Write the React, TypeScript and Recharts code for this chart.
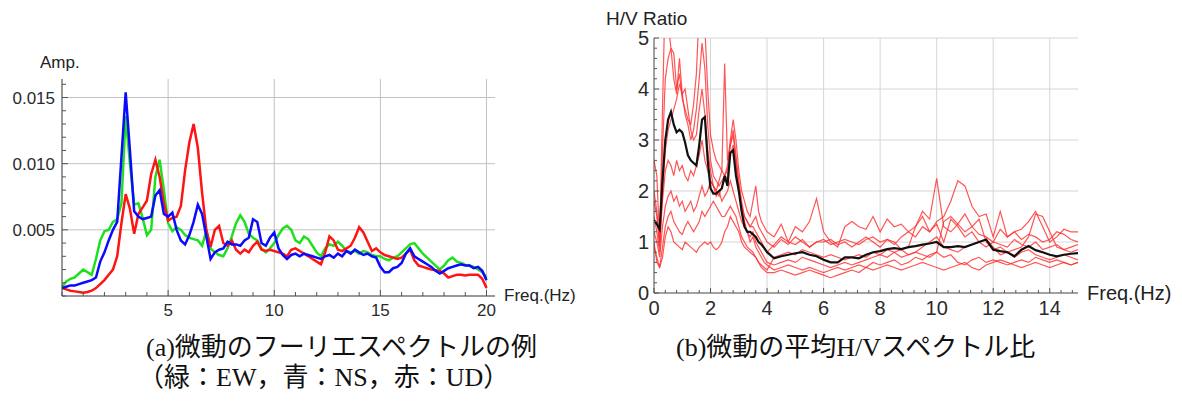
import React from 'react';
import { LineChart, Line, XAxis, YAxis, CartesianGrid } from 'recharts';

const SANS = '"Liberation Sans", Arial, sans-serif';
const SERIF = '"Liberation Serif", "Noto Sans CJK JP", serif';

// (a) Fourier spectra, amplitude in units of 1e-3
const freqA = [
  0, 0.2, 0.4, 0.6, 0.8, 1, 1.2, 1.4, 1.6, 1.8,
  2, 2.2, 2.4, 2.6, 2.8, 3, 3.2, 3.4, 3.6, 3.8,
  4, 4.2, 4.4, 4.6, 4.8, 5, 5.2, 5.4, 5.6, 5.8,
  6, 6.2, 6.4, 6.6, 6.8, 7, 7.2, 7.4, 7.6, 7.8,
  8, 8.2, 8.4, 8.6, 8.8, 9, 9.2, 9.4, 9.6, 9.8,
  10, 10.2, 10.4, 10.6, 10.8, 11, 11.2, 11.4, 11.6, 11.8,
  12, 12.2, 12.4, 12.6, 12.8, 13, 13.2, 13.4, 13.6, 13.8,
  14, 14.2, 14.4, 14.6, 14.8, 15, 15.2, 15.4, 15.6, 15.8,
  16, 16.2, 16.4, 16.6, 16.8, 17, 17.2, 17.4, 17.6, 17.8,
  18, 18.2, 18.4, 18.6, 18.8, 19, 19.2, 19.4, 19.6, 19.8,
  20,
];
const ampEW = [
  0.7, 1.1, 1.3, 1.4, 1.7, 2.0, 1.8, 1.6, 2.8, 4.2,
  4.9, 5.0, 5.6, 5.8, 7.0, 13.6, 10.0, 6.9, 7.0, 5.9,
  4.6, 5.0, 9.0, 10.3, 8.0, 5.5, 4.9, 5.2, 5.0, 4.6,
  4.4, 4.3, 4.2, 3.8, 4.9, 3.6, 3.3, 3.1, 3.0, 3.6,
  4.5, 5.5, 6.1, 5.6, 4.7, 4.4, 4.2, 3.6, 3.3, 3.6,
  4.0, 4.6, 5.1, 5.3, 5.0, 4.2, 4.0, 4.5, 4.3, 3.8,
  3.3, 3.0, 3.6, 3.9, 3.8, 4.1, 3.8, 3.4, 3.3, 3.4,
  3.2, 3.4, 3.3, 3.1, 3.0, 3.0, 2.8, 2.7, 2.9, 3.0,
  3.3, 3.6, 3.9, 4.0, 3.6, 3.2, 2.9, 2.6, 2.3, 2.0,
  2.3, 2.7, 2.9, 2.6, 2.5, 2.35, 2.3, 2.2, 2.0, 1.8,
  1.4,
];
const ampNS = [
  0.6, 0.7, 0.8, 0.8, 0.9, 1.0, 1.1, 1.2, 1.4, 2.6,
  3.3, 4.2, 5.0, 5.6, 10.5, 15.4, 11.0, 6.4, 6.0, 5.8,
  5.9, 6.0, 7.6, 8.0, 6.2, 6.0, 6.3, 5.0, 4.2, 3.9,
  4.6, 5.6, 6.9, 6.2, 4.5, 2.8, 3.3, 3.5, 3.6, 4.1,
  3.9, 3.9, 3.8, 4.2, 4.4, 5.8, 5.6, 4.0, 3.8, 4.4,
  4.8, 3.6, 3.1, 2.8, 3.1, 3.2, 3.0, 3.2, 3.1, 3.0,
  2.9, 2.8, 3.0, 3.1, 2.9, 3.2, 3.0, 3.4, 3.2, 3.5,
  3.3, 3.1, 3.2, 3.0, 2.9, 2.2, 1.8, 1.8, 2.1, 2.2,
  2.5, 3.2, 3.6, 3.0, 2.8, 2.6, 2.4, 2.2, 1.9, 1.7,
  1.9, 2.1, 2.2, 2.3, 2.4, 2.3, 2.3, 2.1, 2.2, 1.9,
  1.2,
];
const ampUD = [
  0.6, 0.5, 0.4, 0.35, 0.3, 0.25, 0.3, 0.4, 0.6, 0.9,
  1.2, 1.6, 2.0, 3.0, 5.5, 7.7, 6.6, 4.7, 6.2, 6.7,
  7.2, 9.2, 10.3, 9.0, 7.0, 5.7, 5.9, 6.0, 6.8, 9.5,
  11.6, 13.0, 11.2, 7.8, 5.0, 3.7, 5.0, 5.3, 4.0, 3.8,
  4.2, 3.5, 3.2, 3.5, 3.3, 3.8, 4.1, 3.5, 3.4, 3.5,
  3.4, 3.3, 3.2, 3.0, 3.5, 3.6, 3.4, 3.2, 3.0, 2.8,
  2.6, 2.4, 3.3, 4.5, 4.2, 3.5, 3.4, 3.6, 3.8, 4.4,
  5.2, 4.8, 4.1, 3.4, 3.6, 3.3, 3.1, 3.0, 2.9, 2.8,
  2.9, 3.2, 3.5, 2.7, 2.3, 2.2, 2.1, 2.0, 1.95, 1.9,
  1.7, 1.4, 1.5, 1.6, 1.6, 1.55, 1.6, 1.6, 1.6, 1.3,
  0.6,
];
const ticksAX = [0, 1, 2, 3, 4, 5, 6, 7, 8, 9, 10, 11, 12, 13, 14, 15, 16, 17, 18, 19, 20];
const labelsAX = [5, 10, 15, 20];
const ticksAY = [0, 1, 2, 3, 4, 5, 6, 7, 8, 9, 10, 11, 12, 13, 14, 15, 16];
const labelsAY = [5, 10, 15];

// (b) H/V spectral ratios
const freqB = [
  0, 0.1, 0.2, 0.3, 0.4, 0.5, 0.6, 0.7, 0.8, 0.9,
  1, 1.1, 1.2, 1.3, 1.4, 1.5, 1.6, 1.7, 1.8, 1.9,
  2, 2.1, 2.2, 2.3, 2.4, 2.5, 2.6, 2.7, 2.8, 2.9,
  3, 3.1, 3.2, 3.3, 3.4, 3.5, 3.6, 3.7, 3.8, 3.9,
  4,
  4.25, 4.5, 4.75, 5, 5.25, 5.5, 5.75, 6, 6.25, 6.5, 6.75, 7,
  7.25, 7.5, 7.75, 8, 8.25, 8.5, 8.75, 9, 9.25, 9.5, 9.75, 10,
  10.25, 10.5, 10.75, 11, 11.25, 11.5, 11.75, 12, 12.25, 12.5, 12.75, 13,
  13.25, 13.5, 13.75, 14, 14.25, 14.5, 14.75, 15,
];
const hvMean = [
  1.43, 1.35, 1.25, 2.2, 3.0, 3.4, 3.55, 3.3, 3.15, 3.2,
  3.15, 2.95, 2.7, 2.6, 2.55, 2.5, 2.9, 3.4, 3.45, 2.6,
  2.05, 1.95, 1.95, 2.0, 2.05, 2.3, 2.1, 2.75, 2.8, 2.3,
  2.0, 1.6, 1.3, 1.2, 1.2, 1.15, 1.1, 1.0, 0.95, 0.88,
  0.8,
  0.68, 0.72, 0.75, 0.78, 0.8, 0.75, 0.72, 0.65, 0.6, 0.6, 0.7, 0.7,
  0.68, 0.75, 0.8, 0.82, 0.86, 0.88, 0.86, 0.9, 0.92, 0.95, 0.97, 1.0,
  0.9, 0.9, 0.92, 0.9, 0.95, 1.0, 1.05, 0.85, 0.82, 0.8, 0.72, 0.85,
  0.92, 0.84, 0.8, 0.75, 0.72, 0.75, 0.77, 0.78,
];
const hv1 = [
  2.6, 2.3, 1.0, 3.6, 6.0, 5.3, 4.8, 4.7, 4.0, 4.3,
  3.8, 3.6, 3.4, 3.3, 3.7, 4.3, 5.6, 6.2, 5.2, 4.0,
  3.1, 2.8, 2.6, 2.5, 2.4, 2.3, 2.5, 3.0, 3.4, 3.0,
  2.4, 2.0, 1.8, 1.6, 1.5, 1.8, 2.1, 1.6, 1.4, 1.3,
  1.2,
  1.1, 1.35, 1.0, 1.3, 1.2, 1.4, 1.85, 1.2, 1.0, 0.9, 1.3, 1.4,
  1.3, 1.25, 1.5, 1.2, 1.45, 1.3, 1.35, 1.2, 1.3, 1.6, 1.45, 2.25,
  1.3, 1.2, 1.35, 1.2, 1.3, 1.15, 1.1, 1.0, 1.25, 1.1, 1.2, 1.05,
  1.15, 1.1, 1.0, 1.05, 1.2, 1.15, 1.05, 1.0,
];
const hv2 = [
  1.8, 1.5, 0.9, 2.8, 4.2, 4.6, 4.8, 4.2, 3.9, 4.6,
  3.9, 3.5, 3.3, 3.0, 3.2, 3.6, 4.2, 4.9, 4.4, 3.3,
  2.6, 2.3, 2.2, 2.1, 2.2, 2.3, 2.4, 2.9, 3.2, 2.7,
  2.2, 1.8, 1.5, 1.4, 1.3, 1.4, 1.5, 1.3, 1.2, 1.1,
  1.0,
  0.9, 1.05, 0.95, 1.1, 1.0, 0.9, 1.0, 1.05, 0.95, 1.0, 1.05, 1.0,
  0.95, 1.05, 1.1, 1.0, 1.05, 0.95, 1.1, 1.2, 1.1, 1.3, 1.2, 1.4,
  1.5, 1.8, 2.2, 2.1, 1.7, 1.5, 1.55, 1.1, 1.6, 1.1, 1.2, 1.25,
  1.4, 1.6, 1.3, 1.0, 1.1, 1.25, 1.2, 1.2,
];
const hv3 = [
  1.5, 1.2, 0.8, 2.0, 2.8, 3.2, 3.4, 3.6, 3.8, 4.1,
  3.9, 4.0, 3.6, 3.2, 3.0, 3.1, 3.6, 4.0, 3.5, 2.8,
  2.4, 2.1, 2.0, 2.2, 2.4, 4.5, 2.6, 2.9, 3.1, 2.6,
  2.1, 1.7, 1.4, 1.2, 1.1, 1.2, 1.0, 0.9, 0.8, 0.7,
  0.6,
  0.55, 0.6, 0.65, 0.6, 0.7, 0.65, 0.6, 0.55, 0.5, 0.55, 0.6, 0.55,
  0.6, 0.65, 0.7, 0.75, 0.7, 0.8, 0.85, 0.75, 0.8, 0.9, 1.0, 1.1,
  0.9, 0.85, 0.8, 0.9, 0.95, 1.0, 1.05, 0.9, 0.75, 0.8, 0.7, 0.8,
  0.85, 0.75, 0.7, 0.65, 0.7, 0.75, 0.7, 0.65,
];
const hv4 = [
  2.0, 1.6, 1.0, 1.8, 2.4, 2.6, 2.5, 2.3, 2.6, 2.4,
  2.5, 2.3, 2.2, 2.4, 2.3, 2.5, 2.7, 3.0, 2.6, 2.4,
  2.2, 2.1, 2.0, 1.9, 2.1, 2.2, 2.3, 2.7, 2.9, 2.5,
  2.0, 1.7, 1.5, 1.4, 1.3, 1.3, 1.2, 1.1, 1.0, 0.9,
  0.8,
  0.95, 1.1, 1.0, 0.95, 1.05, 0.9, 1.0, 1.0, 1.05, 0.95, 1.0, 0.9,
  1.0, 1.1, 1.0, 0.9, 1.05, 1.0, 0.85, 0.9, 1.3, 1.5, 1.2, 1.35,
  1.0, 1.45, 1.3, 1.1, 1.2, 1.0, 0.9, 1.0, 0.95, 0.9, 1.05, 0.95,
  0.9, 1.0, 0.85, 0.9, 0.95, 0.85, 0.9, 0.95,
];
const hv5 = [
  1.2, 1.0, 0.7, 1.3, 1.7, 1.9, 2.0, 1.8, 1.9, 1.7,
  1.8, 1.6, 1.7, 1.8, 1.6, 1.7, 1.9, 2.1, 1.9, 2.0,
  2.2, 2.1, 1.9, 2.0, 1.8, 1.9, 2.0, 2.2, 2.0, 1.8,
  1.6, 1.4, 1.3, 1.2, 1.0, 1.1, 0.9, 0.8, 0.7, 0.6,
  0.55,
  0.45, 0.5, 0.55, 0.5, 0.45, 0.5, 0.45, 0.4, 0.45, 0.5, 0.45, 0.5,
  0.55, 0.5, 0.6, 0.55, 0.6, 0.65, 0.55, 0.6, 0.7, 0.65, 0.75, 0.8,
  0.7, 0.75, 0.6, 0.55, 0.65, 0.7, 0.6, 0.65, 0.6, 0.55, 0.6, 0.65,
  0.6, 0.7, 0.65, 0.6, 0.65, 0.6, 0.55, 0.6,
];
const hv6 = [
  0.9, 0.7, 0.5, 0.9, 1.3, 1.5, 1.6, 1.4, 1.3, 1.2,
  1.15, 1.3, 1.4, 1.3, 1.2, 1.3, 1.4, 1.6, 1.5, 1.6,
  1.7, 1.8, 1.7, 1.6, 1.5, 1.5, 1.6, 1.7, 1.6, 1.5,
  1.3, 1.1, 1.0, 0.9, 0.85, 0.8, 0.7, 0.6, 0.5, 0.45,
  0.4,
  0.4, 0.45, 0.4, 0.35, 0.4, 0.45, 0.4, 0.35, 0.3, 0.35, 0.4, 0.45,
  0.4, 0.5, 0.45, 0.5, 0.55, 0.5, 0.45, 0.5, 0.55, 0.6, 0.55, 0.5,
  0.45, 0.5, 0.55, 0.6, 0.5, 0.45, 0.55, 0.6, 0.65, 0.6, 0.55, 0.5,
  0.55, 0.6, 0.55, 0.5, 0.55, 0.6, 0.55, 0.6,
];
const hv7 = [
  1.0, 0.6, 0.5, 0.7, 1.1, 1.3, 1.2, 1.0, 0.95, 0.9,
  0.85, 1.0, 0.95, 0.9, 0.85, 0.8, 0.9, 0.95, 1.0, 0.95,
  1.0, 0.9, 0.85, 0.9, 1.0, 1.2, 1.3, 1.5, 1.4, 1.3,
  1.2, 1.0, 0.9, 0.85, 0.8, 0.75, 0.7, 0.6, 0.55, 0.5,
  0.45,
  0.7, 0.75, 0.8, 0.75, 0.85, 0.8, 0.75, 0.7, 0.75, 0.7, 0.65, 0.7,
  0.75, 0.7, 0.8, 0.75, 0.85, 0.8, 0.7, 0.75, 0.8, 0.75, 0.7, 0.8,
  1.4, 1.5, 1.35, 1.55, 1.3, 1.45, 1.0, 0.85, 0.9, 0.8, 0.85, 0.9,
  1.1, 1.55, 1.5, 1.2, 0.9, 0.85, 0.8, 0.85,
];
const hvSites = [hv1, hv2, hv3, hv4, hv5, hv6, hv7];
const ticksBX = [
  0, 0.4, 0.8, 1.2, 1.6, 2, 2.4, 2.8, 3.2, 3.6, 4, 4.4, 4.8, 5.2, 5.6, 6, 6.4, 6.8, 7.2, 7.6,
  8, 8.4, 8.8, 9.2, 9.6, 10, 10.4, 10.8, 11.2, 11.6, 12, 12.4, 12.8, 13.2, 13.6, 14, 14.4, 14.8,
];
const labelsBX = [0, 2, 4, 6, 8, 10, 12, 14];
const ticksBY = [
  0, 0.2, 0.4, 0.6, 0.8, 1, 1.2, 1.4, 1.6, 1.8, 2, 2.2, 2.4, 2.6, 2.8,
  3, 3.2, 3.4, 3.6, 3.8, 4, 4.2, 4.4, 4.6, 4.8, 5,
];
const labelsBY = [0, 1, 2, 3, 4, 5];

const spectrumRows = freqA.map((f, i) => ({ f, ew: ampEW[i], ns: ampNS[i], ud: ampUD[i] }));
const hvRows = freqB.map((f, i) => {
  const row: any = { f, mean: hvMean[i] };
  hvSites.forEach((s, k) => { row[`s${k}`] = s[i]; });
  return row;
});

// ticks drawn inward (Mathematica style), label only on the major ones
const bottomTick = (labels: number[], len: number, fontSize: number, dy: number) => (props: any) => {
  const { x, y, payload } = props;
  const major = labels.includes(payload.value);
  return (
    <g>
      <line x1={x} y1={y} x2={x} y2={y - (major ? len + 2 : len)} stroke="#555" />
      {major && (
        <text x={x} y={y + dy} textAnchor="middle" fontSize={fontSize} fontFamily={SANS} fill="#2a2a2a">
          {payload.value}
        </text>
      )}
    </g>
  );
};

const leftTick = (labels: number[], len: number, fontSize: number, fmt: (v: number) => string, dx: number) => (props: any) => {
  const { x, y, payload } = props;
  const major = labels.includes(payload.value);
  return (
    <g>
      <line x1={x} y1={y} x2={x + (major ? len + 2 : len)} y2={y} stroke="#555" />
      {major && (
        <text x={x - dx} y={y} dy="0.36em" textAnchor="end" fontSize={fontSize} fontFamily={SANS} fill="#2a2a2a">
          {fmt(payload.value)}
        </text>
      )}
    </g>
  );
};

const abs = (left: number, top: number, size: number, family = SANS): React.CSSProperties => ({
  position: 'absolute', left, top, fontSize: size, fontFamily: family,
  lineHeight: '20px', whiteSpace: 'nowrap', color: '#222',
});

export default function App() {
  return (
    <div style={{ position: 'relative', width: 1182, height: 403, background: '#fff', overflow: 'hidden' }}>
      <style>{'body{margin:0}'}</style>

      <div style={{ position: 'absolute', left: 0, top: 0 }}>
        <LineChart width={600} height={330} data={spectrumRows} margin={{ top: 79, right: 105, bottom: 4, left: 0 }}>
          <CartesianGrid horizontalValues={labelsAY} verticalValues={labelsAX} stroke="#c2c2c2" />
          <XAxis
            dataKey="f" type="number" domain={[0, 20.4]} allowDataOverflow ticks={ticksAX} interval={0}
            height={30} tickSize={0} tickMargin={0} tickLine={false} axisLine={{ stroke: '#333' }}
            tick={bottomTick(labelsAX, 4, 17, 20)}
          />
          <YAxis
            type="number" domain={[0, 16.4]} allowDataOverflow ticks={ticksAY} interval={0}
            width={62} tickSize={0} tickMargin={0} tickLine={false} axisLine={{ stroke: '#333' }}
            tick={leftTick(labelsAY, 4, 17, (v) => (v / 1000).toFixed(3), 7)}
          />
          <Line dataKey="ew" stroke="#1fe01f" strokeWidth={2.5} dot={false} isAnimationActive={false} />
          <Line dataKey="ud" stroke="#ff1414" strokeWidth={2.5} dot={false} isAnimationActive={false} />
          <Line dataKey="ns" stroke="#0a0aff" strokeWidth={2.5} dot={false} isAnimationActive={false} />
        </LineChart>
      </div>
      <div style={abs(40, 53, 17)}>Amp.</div>
      <div style={abs(504, 286, 17)}>Freq.(Hz)</div>

      <div style={{ position: 'absolute', left: 600, top: 0 }}>
        <LineChart width={582} height={330} data={hvRows} margin={{ top: 38, right: 104, bottom: 4, left: 0 }}>
          <CartesianGrid horizontalValues={[1, 2, 3, 4, 5]} verticalValues={[2, 4, 6, 8, 10, 12, 14]} stroke="#d6d6d6" />
          <XAxis
            dataKey="f" type="number" domain={[0, 15]} allowDataOverflow ticks={ticksBX} interval={0}
            height={33} tickSize={0} tickMargin={0} tickLine={false} axisLine={{ stroke: '#444' }}
            tick={bottomTick(labelsBX, 3, 20, 22)}
          />
          <YAxis
            type="number" domain={[0, 5]} allowDataOverflow ticks={ticksBY} interval={0}
            width={54} tickSize={0} tickMargin={0} tickLine={false} axisLine={{ stroke: '#444' }}
            tick={leftTick(labelsBY, 3, 20, (v) => String(v), 5)}
          />
          {hvSites.map((_, k) => (
            <Line key={k} dataKey={`s${k}`} stroke="#ff2a2a" strokeOpacity={0.8} strokeWidth={1.2} dot={false} isAnimationActive={false} />
          ))}
          <Line dataKey="mean" stroke="#111" strokeWidth={2.2} dot={false} isAnimationActive={false} />
        </LineChart>
      </div>
      <div style={abs(606, 9, 19)}>H/V Ratio</div>
      <div style={abs(1087, 283, 20)}>Freq.(Hz)</div>

      <div style={{ ...abs(146, 333, 26, SERIF), lineHeight: '30px', color: '#111' }}>(a)微動のフーリエスペクトルの例</div>
      <div style={{ ...abs(138, 363, 26, SERIF), lineHeight: '30px', color: '#111' }}>（緑：EW，青：NS，赤：UD）</div>
      <div style={{ ...abs(676, 333, 26, SERIF), lineHeight: '30px', color: '#111' }}>(b)微動の平均H/Vスペクトル比</div>
    </div>
  );
}
